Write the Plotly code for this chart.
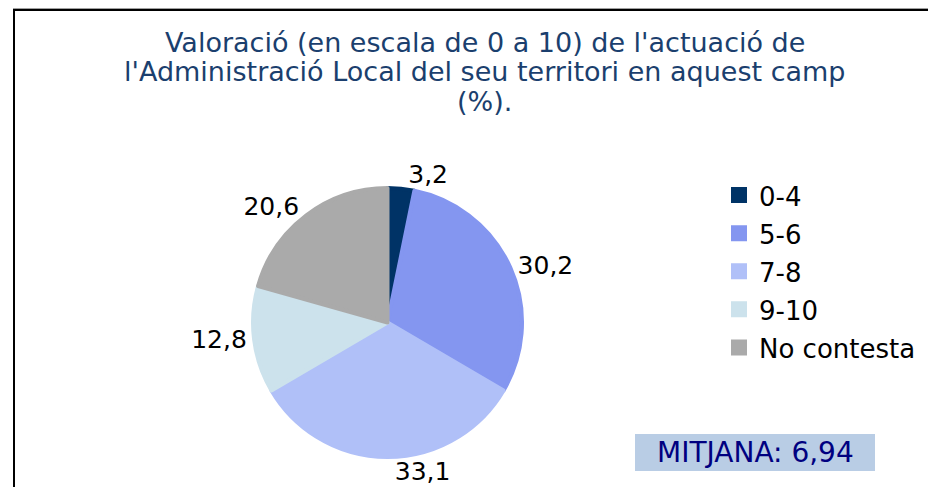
import plotly.graph_objects as go

categories = ["0-4", "5-6", "7-8", "9-10", "No contesta"]
values = [3.2, 30.2, 33.1, 12.8, 20.6]
value_labels = ["3,2", "30,2", "33,1", "12,8", "20,6"]
colors = ["#003366", "#8496F0", "#B0C0F8", "#CCE2EC", "#AAAAAA"]
title_lines = ["Valoració (en escala de 0 a 10) de l'actuació de",
               "l'Administració Local del seu territori en aquest camp",
               "(%)."]
mean_text = "MITJANA: 6,94"

W, H = 936, 487
OFF = 8  # page body margin
FONT = "DejaVu Sans, Verdana, sans-serif"

def px(x):
    return (x - OFF) / W

def py(y):
    return 1 - (y - OFF) / H

fig = go.Figure(go.Pie(
    labels=[f'<span style="font-size:26px">{c}</span>' for c in categories],
    values=values,
    text=value_labels,
    textinfo="text",
    texttemplate="%{text}",
    textposition="outside",
    outsidetextfont=dict(family=FONT, size=25, color="#000000"),
    marker=dict(colors=colors, line=dict(color=colors, width=4)),
    sort=False,
    direction="clockwise",
    rotation=0,
    hoverinfo="label+percent",
    domain=dict(x=[px(253), px(522)], y=[py(457), py(188)]),
))

shapes = [
    dict(type="line", xref="paper", yref="paper", x0=px(13), x1=px(936), y0=py(8.5), y1=py(8.5),
         line=dict(color="#A0A0A0", width=1)),
    dict(type="path", xref="paper", yref="paper",
         path=f"M {px(14)} {py(487)} L {px(14)} {py(10)} L {px(934.5)} {py(10)} L {px(934.5)} {py(487)}",
         line=dict(color="#000000", width=2)),
    dict(type="rect", xref="paper", yref="paper", x0=px(635), x1=px(875), y0=py(471), y1=py(434),
         fillcolor="#B9CDE5", line=dict(width=0)),
]

annotations = []
for i, line in enumerate(title_lines):
    annotations.append(dict(
        text=line, x=px(485), y=py(42 + 30 * i), xref="paper", yref="paper",
        xanchor="center", yanchor="middle", showarrow=False, align="center",
        font=dict(family=FONT, size=27, color="#1B3F6E")))
annotations.append(dict(
    text=mean_text, x=px(755), y=py(452.5), xref="paper", yref="paper",
    xanchor="center", yanchor="middle", showarrow=False,
    font=dict(family=FONT, size=28, color="#000080")))

fig.update_layout(
    width=W, height=H,
    margin=dict(l=0, r=0, t=0, b=0),
    paper_bgcolor="#FFFFFF",
    plot_bgcolor="#FFFFFF",
    showlegend=True,
    legend=dict(x=px(719), y=py(171), xanchor="left", yanchor="top",
                font=dict(family=FONT, size=27, color="#000000"),
                bgcolor="rgba(0,0,0,0)"),
    shapes=shapes,
    annotations=annotations,
)

fig.write_html("out.html")
